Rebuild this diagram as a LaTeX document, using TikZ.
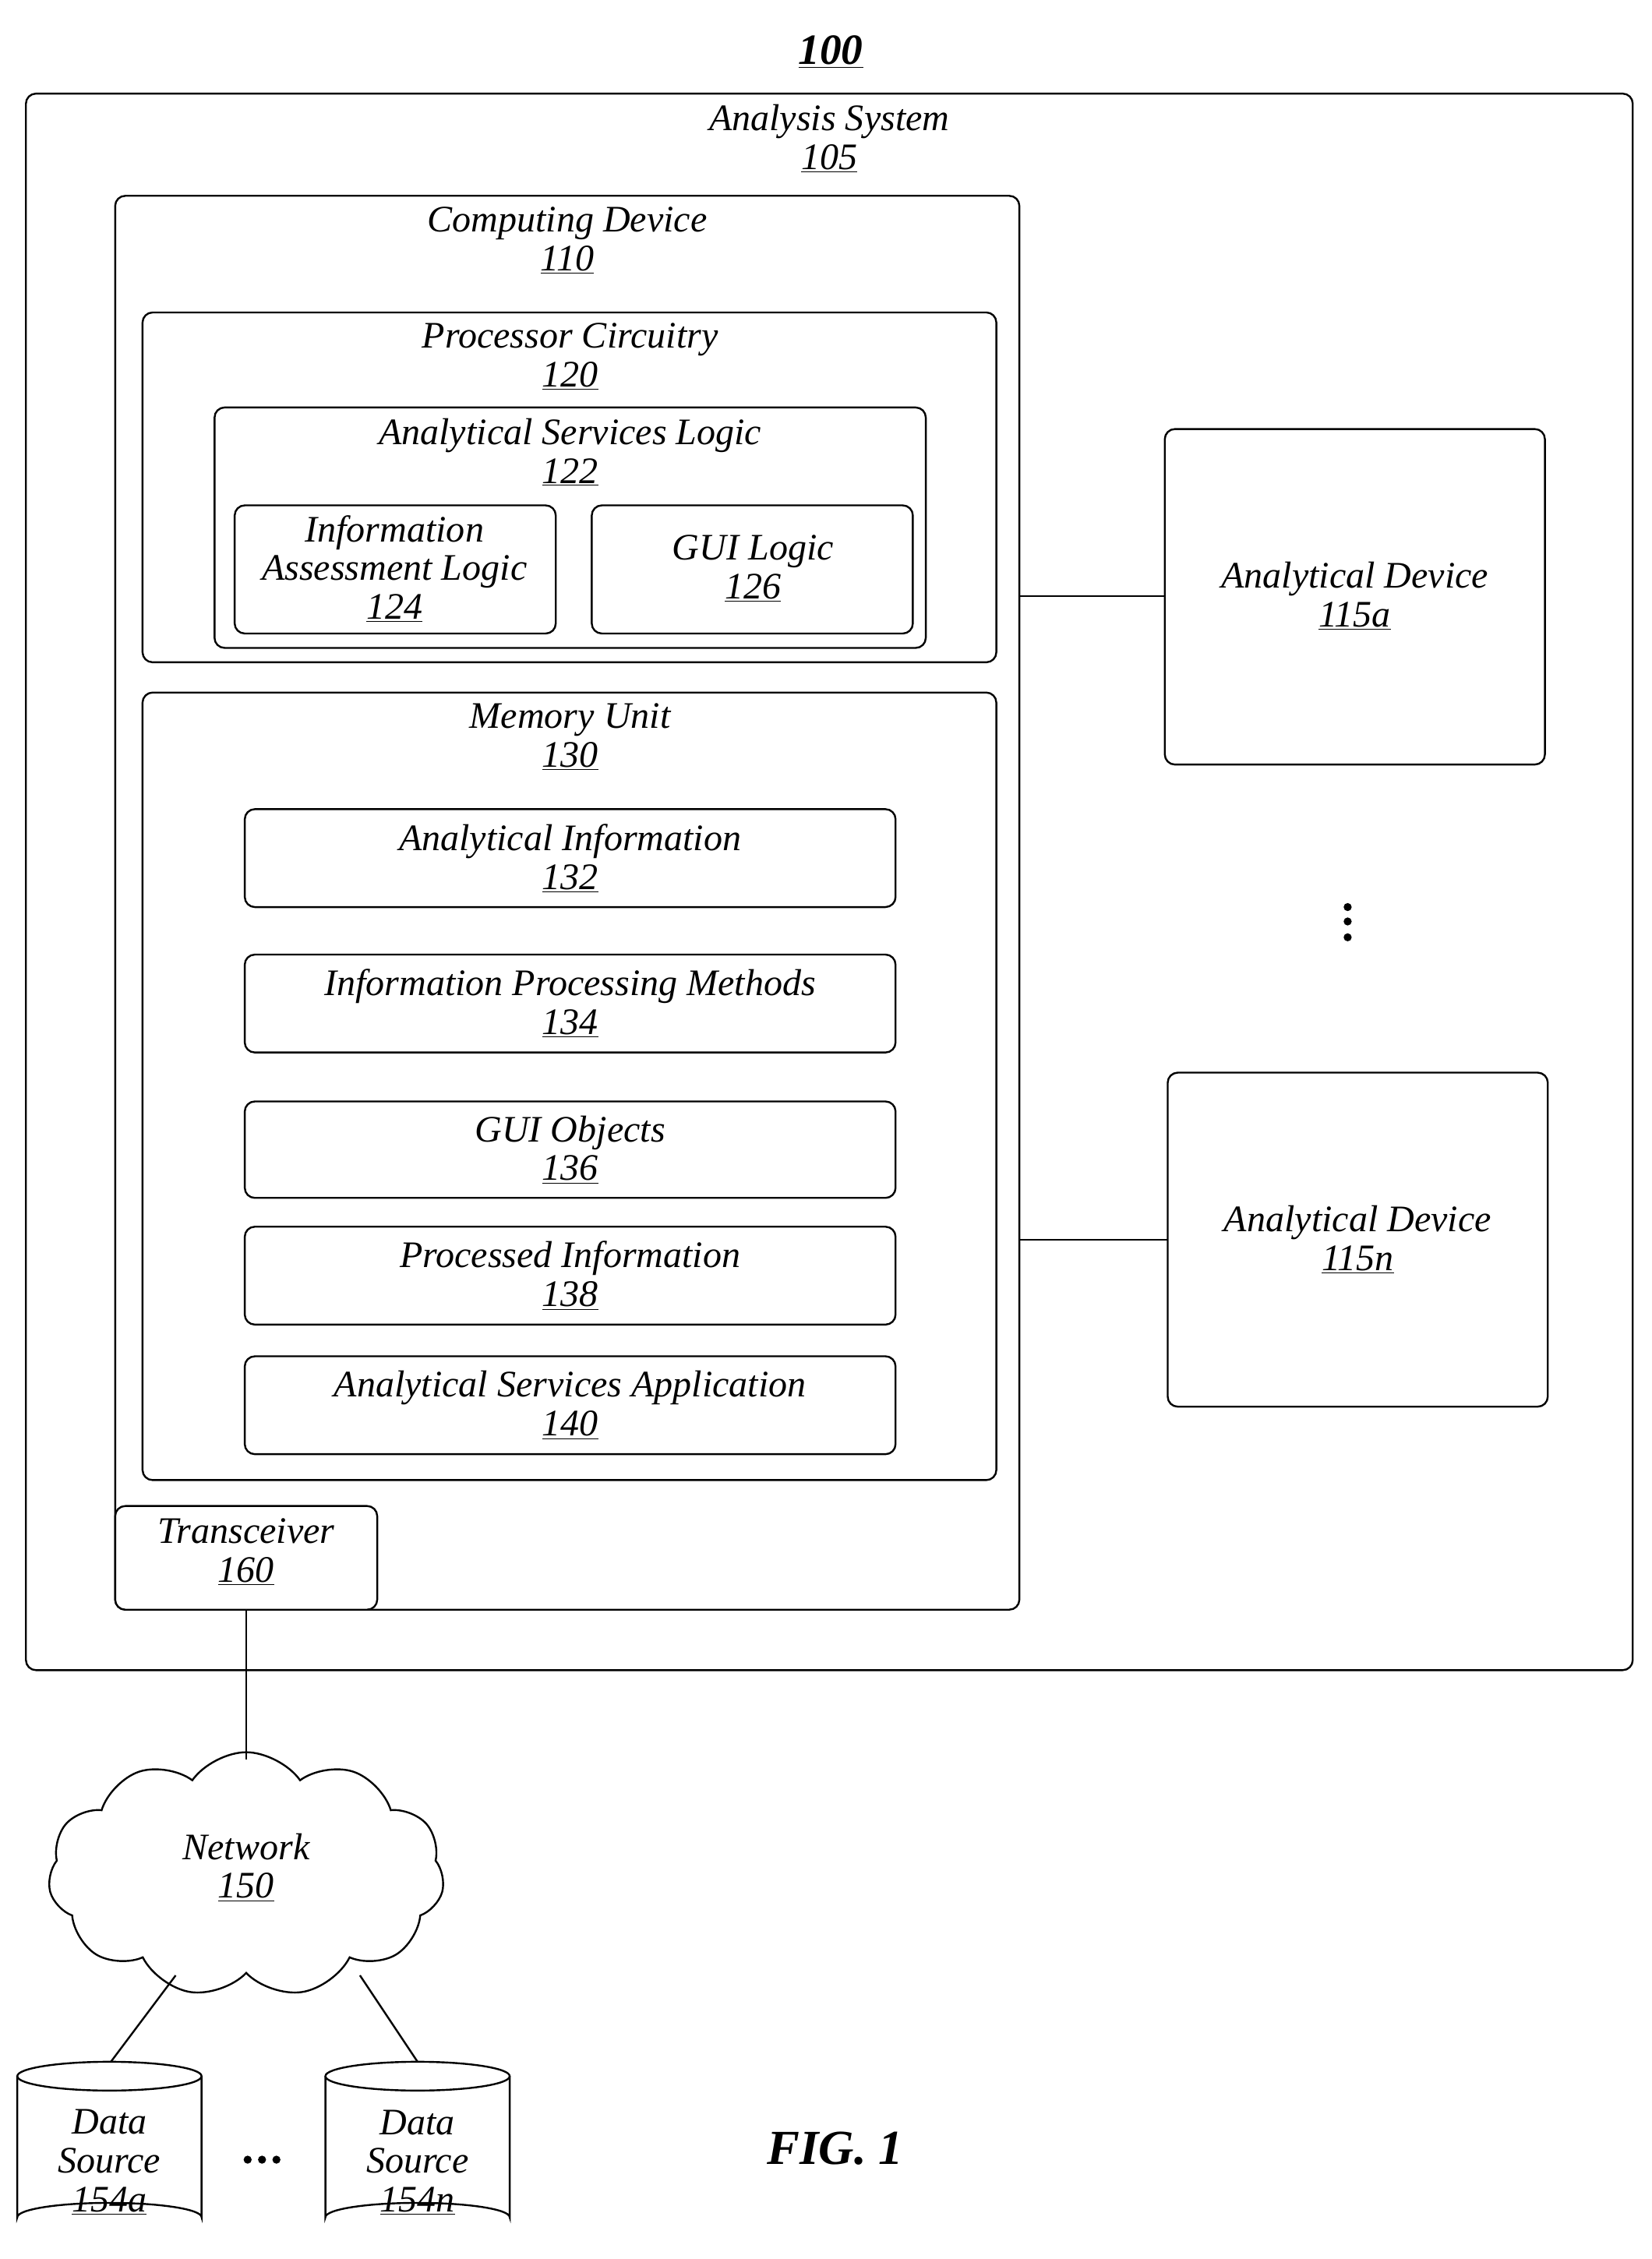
\documentclass[tikz,border=0pt]{standalone}
\usepackage{fontspec}
\setmainfont{Liberation Serif}
\usetikzlibrary{shapes.symbols}
\begin{document}
\begin{tikzpicture}[x=1pt,y=-1pt,line width=1.3pt,
  box/.style={draw,rounded corners=7pt},
  ttl/.style={anchor=north,font=\fontsize{26}{27}\selectfont\itshape,align=center,inner sep=0pt},
  ctr/.style={font=\fontsize{26}{27}\selectfont\itshape,align=center,inner sep=0pt}]
\useasboundingbox (0,0) rectangle (1147,1569);
\node[font=\fontsize{30}{34}\selectfont\bfseries\itshape] (t100) at (577,36) {\underline{100}};
\draw[box] (18,65) rectangle (1134,1160);
\node[ttl] (l105) at (576,72) {Analysis System\\\underline{105}};
\draw[box] (80,136) rectangle (708,1118);
\node[ttl] (l110) at (394,143) {Computing Device\\\underline{110}};
\draw[box] (99,217) rectangle (692,460);
\node[ttl] (l120) at (396,224) {Processor Circuitry\\\underline{120}};
\draw[box] (149,283) rectangle (643,450);
\node[ttl] (l122) at (396,290) {Analytical Services Logic\\\underline{122}};
\draw[box] (163,351) rectangle (386,440);
\node[ctr] (l124) at (274,395) {Information\\Assessment Logic\\\underline{124}};
\draw[box] (411,351) rectangle (634,440);
\node[ctr] (l126) at (523,395) {GUI Logic\\\underline{126}};
\draw[box] (99,481) rectangle (692,1028);
\node[ttl] (l130) at (396,488) {Memory Unit\\\underline{130}};
\foreach \a/\b/\t/\n in {562/630/Analytical Information/132,663/731/Information Processing Methods/134,765/832/GUI Objects/136,852/920/Processed Information/138,942/1010/Analytical Services Application/140}{
  \draw[box] (170,\a) rectangle (622,\b);
  \node[ctr] (m\n) at (396,{(\a+\b)/2}) {\t\\\underline{\n}};
}
\draw[box,fill=white] (80,1046) rectangle (262,1118);
\node[ttl] (l160) at (171,1054) {Transceiver\\\underline{160}};
\coordinate (tr) at (171,1118);
\draw[box] (809,298) rectangle (1073,531);
\node[ctr] (a) at (941,414) {Analytical Device\\\underline{115a}};
\draw[box] (811,745) rectangle (1075,977);
\node[ctr] (n) at (943,861) {Analytical Device\\\underline{115n}};
\draw (708,414) -- (809,414);
\draw (708,861) -- (811,861);
\foreach \y in {630,640,651} \fill (936,\y) circle (2.8);
\node[cloud,draw,cloud puffs=11,cloud puff arc=110,aspect=1.6,minimum width=275,minimum height=170,inner sep=0pt] (net) at (171,1302) {};
\node[ctr] at (171,1297) {Network\\\underline{150}};
\draw (tr) -- (171,1222);
\foreach \x/\n in {76/154a,290/154n}{
  \draw[fill=white] (\x-64,1442) -- (\x-64,1540) arc[start angle=180,end angle=360,x radius=64,y radius=10] -- (\x+64,1442);
  \draw (\x,1442) ellipse [x radius=64,y radius=10];
  \node[ctr] (d\n) at (\x,1502) {Data\\Source\\\underline{\n}};
}
\draw (122,1372) -- (77,1432);
\draw (250,1372) -- (290,1432);
\foreach \x in {172,182,192} \fill (\x,1500) circle (2.8);
\node[font=\fontsize{34}{38}\selectfont\bfseries\itshape] at (580,1492) {FIG. 1};
\end{tikzpicture}
\end{document}
